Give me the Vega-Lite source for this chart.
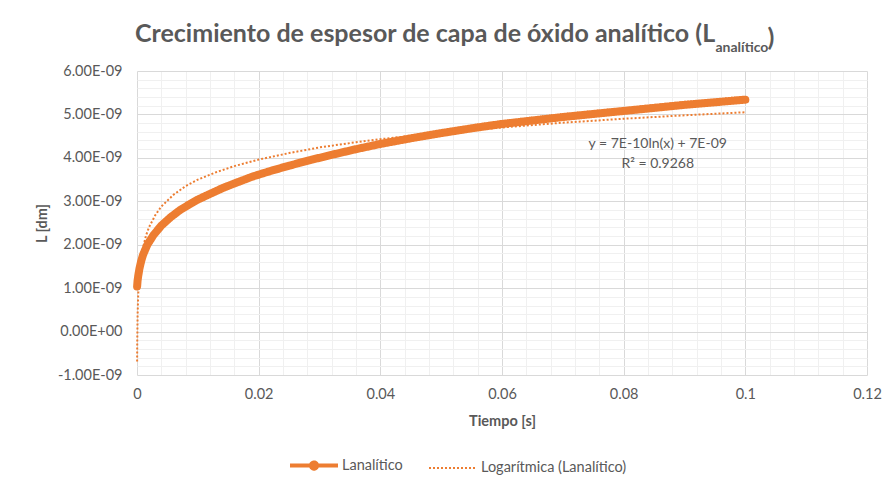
{
  "$schema": "https://vega.github.io/schema/vega-lite/v6.json",
  "width": 730,
  "height": 304,
  "autosize": {"type": "none"},
  "padding": {"left": 137, "top": 71, "right": 25, "bottom": 115},
  "background": "white",
  "config": {
    "view": {"stroke": null},
    "font": "Lato",
    "axis": {"labelFont": "Lato", "titleFont": "Lato", "labelColor": "#595959", "titleColor": "#595959"}
  },
  "title": {
    "text": "Crecimiento de espesor de capa de óxido analítico (L",
    "anchor": "start",
    "frame": "group",
    "fontSize": 25,
    "fontWeight": "bold",
    "font": "Lato",
    "color": "#595959",
    "baseline": "alphabetic",
    "offset": -42,
    "dx": -2
  },
  "datasets": {
    "lanalitico": [
      {"t": 0.00002, "L": 1.04e-9}, {"t": 0.0001, "L": 1.18e-9}, {"t": 0.0002, "L": 1.28e-9},
      {"t": 0.0004, "L": 1.45e-9}, {"t": 0.0007, "L": 1.63e-9}, {"t": 0.001, "L": 1.77e-9},
      {"t": 0.0017, "L": 2.0e-9}, {"t": 0.0027, "L": 2.22e-9}, {"t": 0.004, "L": 2.44e-9},
      {"t": 0.0055, "L": 2.63e-9}, {"t": 0.007, "L": 2.79e-9}, {"t": 0.0085, "L": 2.92e-9},
      {"t": 0.01, "L": 3.04e-9}, {"t": 0.012, "L": 3.17e-9}, {"t": 0.014, "L": 3.3e-9},
      {"t": 0.016, "L": 3.41e-9}, {"t": 0.019, "L": 3.57e-9}, {"t": 0.022, "L": 3.7e-9},
      {"t": 0.025, "L": 3.82e-9}, {"t": 0.0285, "L": 3.95e-9}, {"t": 0.032, "L": 4.07e-9},
      {"t": 0.036, "L": 4.2e-9}, {"t": 0.04, "L": 4.32e-9}, {"t": 0.045, "L": 4.45e-9},
      {"t": 0.05, "L": 4.57e-9}, {"t": 0.055, "L": 4.68e-9}, {"t": 0.06, "L": 4.78e-9},
      {"t": 0.065, "L": 4.86e-9}, {"t": 0.07, "L": 4.94e-9}, {"t": 0.075, "L": 5.01e-9},
      {"t": 0.08, "L": 5.08e-9}, {"t": 0.085, "L": 5.15e-9}, {"t": 0.09, "L": 5.22e-9},
      {"t": 0.095, "L": 5.28e-9}, {"t": 0.1, "L": 5.34e-9}
    ],
    "tendencia": [
      {"t": 0.00002, "L": -0.69e-9}, {"t": 0.00004, "L": -0.23e-9}, {"t": 0.0001, "L": 0.39e-9},
      {"t": 0.0002, "L": 0.86e-9}, {"t": 0.0004, "L": 1.33e-9}, {"t": 0.0007, "L": 1.7e-9},
      {"t": 0.001, "L": 1.94e-9}, {"t": 0.0015, "L": 2.22e-9}, {"t": 0.002, "L": 2.41e-9},
      {"t": 0.003, "L": 2.68e-9}, {"t": 0.004, "L": 2.88e-9}, {"t": 0.006, "L": 3.15e-9},
      {"t": 0.008, "L": 3.35e-9}, {"t": 0.01, "L": 3.5e-9}, {"t": 0.013, "L": 3.67e-9},
      {"t": 0.016, "L": 3.81e-9}, {"t": 0.02, "L": 3.96e-9}, {"t": 0.025, "L": 4.11e-9},
      {"t": 0.03, "L": 4.24e-9}, {"t": 0.035, "L": 4.34e-9}, {"t": 0.04, "L": 4.43e-9},
      {"t": 0.05, "L": 4.58e-9}, {"t": 0.06, "L": 4.7e-9}, {"t": 0.07, "L": 4.81e-9},
      {"t": 0.08, "L": 4.9e-9}, {"t": 0.09, "L": 4.98e-9}, {"t": 0.1, "L": 5.05e-9}
    ],
    "ecuacion": [
      {"t": 0.0856, "L": 4.33e-9, "texto": "y = 7E-10ln(x) + 7E-09"},
      {"t": 0.0856, "L": 3.87e-9, "texto": "R² = 0.9268"}
    ]
  },
  "layer": [
    {
      "data": {"name": "lanalitico"},
      "mark": {"type": "line", "strokeWidth": 8, "strokeCap": "round", "strokeJoin": "round"},
      "encoding": {
        "x": {
          "field": "t", "type": "quantitative",
          "scale": {"domain": [0, 0.12], "nice": false, "zero": false},
          "axis": {
            "orient": "top",
            "values": [0.004, 0.008, 0.012, 0.016, 0.024, 0.028, 0.032, 0.036, 0.044, 0.048, 0.052, 0.056, 0.064, 0.068, 0.072, 0.076, 0.084, 0.088, 0.092, 0.096, 0.104, 0.108, 0.112, 0.116],
            "grid": true, "gridColor": "#f0f0f0", "gridWidth": 1,
            "labels": false, "ticks": false, "domain": false,
            "title": "analítico", "titleX": 578, "titleY": -20, "titleAlign": "left", "titleBaseline": "alphabetic",
            "titleAngle": 0, "titleFontSize": 14, "titleFontWeight": "bold", "titleColor": "#595959", "titleFont": "Lato"
          }
        },
        "y": {
          "field": "L", "type": "quantitative",
          "scale": {"domain": [-1e-9, 6e-9], "nice": false, "zero": false},
          "axis": {
            "orient": "right",
            "values": [-8e-10, -6e-10, -4e-10, -2e-10, 2e-10, 4e-10, 6e-10, 8e-10, 1.2e-9, 1.4e-9, 1.6e-9, 1.8e-9, 2.2e-9, 2.4e-9, 2.6e-9, 2.8e-9, 3.2e-9, 3.4e-9, 3.6e-9, 3.8e-9, 4.2e-9, 4.4e-9, 4.6e-9, 4.8e-9, 5.2e-9, 5.4e-9, 5.6e-9, 5.8e-9],
            "grid": true, "gridColor": "#f0f0f0", "gridWidth": 1,
            "labels": false, "ticks": false, "domain": false,
            "title": ")", "titleX": -100, "titleY": -26, "titleAlign": "left", "titleBaseline": "alphabetic",
            "titleAngle": 0, "titleFontSize": 25, "titleFontWeight": "bold", "titleColor": "#595959", "titleFont": "Lato"
          }
        },
        "color": {
          "datum": "Lanalítico",
          "scale": {"domain": ["Lanalítico", "Logarítmica (Lanalítico)"], "range": ["#ED7D31", "#ED7D31"]},
          "legend": {
            "orient": "none", "legendX": 153, "legendY": 387, "direction": "horizontal", "title": null,
            "padding": 0, "symbolType": "stroke", "symbolSize": 2304, "labelOffset": 5, "columnPadding": 22,
            "labelFont": "Lato", "labelFontSize": 14.5, "labelColor": "#595959",
            "encode": {
              "symbols": {
                "update": {
                  "x": {"value": 24},
                  "size": {"value": 2304},
                  "shape": {"signal": "datum.value === 'Lanalítico' ? 'M-1,0H1M0.13,0A0.13,0.13,0,1,1,-0.13,0A0.13,0.13,0,1,1,0.13,0' : 'stroke'"},
                  "fill": {"signal": "datum.value === 'Lanalítico' ? '#ED7D31' : 'transparent'"},
                  "strokeWidth": {"signal": "datum.value === 'Lanalítico' ? 4 : 2"}
                }
              },
              "labels": {
                "update": {
                  "x": {"value": 52}
                }
              }
            }
          }
        },
        "strokeDash": {
          "datum": "Lanalítico",
          "scale": {"domain": ["Lanalítico", "Logarítmica (Lanalítico)"], "range": [[1, 0], [2, 2]]}
        }
      }
    },
    {
      "data": {"name": "tendencia"},
      "mark": {"type": "line", "strokeWidth": 2},
      "encoding": {
        "x": {
          "field": "t", "type": "quantitative",
          "axis": {
            "orient": "bottom",
            "values": [0, 0.02, 0.04, 0.06, 0.08, 0.1, 0.12],
            "grid": true, "gridColor": "#d9d9d9", "gridWidth": 1,
            "domain": false, "ticks": false, "labelFlush": false,
            "labelExpr": "format(datum.value, '~g')", "labelFontSize": 14.5, "labelPadding": 12, "labelColor": "#595959",
            "title": "Tiempo [s]", "titleX": 365, "titleY": 46, "titleAlign": "center", "titleBaseline": "middle",
            "titleFontSize": 14.5, "titleFontWeight": "bold", "titleColor": "#595959"
          }
        },
        "y": {
          "field": "L", "type": "quantitative",
          "axis": {
            "orient": "left",
            "values": [-1e-9, 0, 1e-9, 2e-9, 3e-9, 4e-9, 5e-9, 6e-9],
            "grid": true, "gridColor": "#d9d9d9", "gridWidth": 1,
            "domain": false, "ticks": false, "labelFlush": false,
            "labelExpr": "(datum.value < -1e-12 ? '-' : '') + format(abs(datum.value) * 1e9, '.2f') + (abs(datum.value) < 1e-12 ? 'E+00' : 'E-09')",
            "labelFontSize": 14.5, "labelPadding": 15, "labelColor": "#595959",
            "title": "L [dm]", "titleX": -95, "titleY": 152, "titleAlign": "center", "titleBaseline": "middle", "titleAngle": -90,
            "titleFontSize": 14.5, "titleFontWeight": "bold", "titleColor": "#595959"
          }
        },
        "color": {"datum": "Logarítmica (Lanalítico)"},
        "strokeDash": {"datum": "Logarítmica (Lanalítico)"}
      }
    },
    {
      "data": {"name": "ecuacion"},
      "mark": {"type": "text", "font": "Lato", "fontSize": 14, "color": "#595959", "align": "center", "baseline": "middle"},
      "encoding": {
        "x": {"field": "t", "type": "quantitative", "axis": null},
        "y": {"field": "L", "type": "quantitative", "axis": null},
        "text": {"field": "texto"}
      }
    }
  ],
  "resolve": {"axis": {"x": "independent", "y": "independent"}}
}
